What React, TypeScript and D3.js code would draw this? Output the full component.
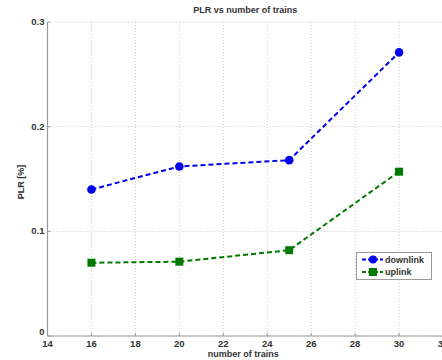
import React from "react";
import * as d3 from "d3";

const trains = [16, 20, 25, 30];
const downlink = [0.14, 0.162, 0.168, 0.271];
const uplink = [0.07, 0.071, 0.082, 0.157];
const xTicks = [14, 16, 18, 20, 22, 24, 26, 28, 30, 32];
const yTicks = [0, 0.1, 0.2, 0.3];

const W = 442;
const H = 360;
const left = 47.5;
const right = 443;
const top = 22;
const bottom = 336;

export default function App() {
  const x = d3.scaleLinear().domain([14, 32]).range([left, right]);
  const y = d3.scaleLinear().domain([0, 0.3]).range([bottom, top]);
  const line = d3
    .line<number>()
    .x((_, i) => x(trains[i]))
    .y((d) => y(d));
  const font = "'Liberation Sans', Arial, sans-serif";
  const blue = "#0000ee";
  const green = "#007a00";
  return (
    <svg
      width={W}
      height={H}
      style={{ position: "absolute", left: 0, top: 0, background: "#fff" }}
      fontFamily={font}
    >
      <rect x={0} y={0} width={W} height={H} fill="#fff" />
      {/* grid */}
      {xTicks.map((t) => (
        <line
          key={"gx" + t}
          x1={x(t)}
          x2={x(t)}
          y1={top}
          y2={bottom}
          stroke="#c8c8c8"
          strokeWidth={1}
          strokeDasharray="1,2"
        />
      ))}
      {yTicks.map((t) => (
        <line
          key={"gy" + t}
          x1={left}
          x2={right}
          y1={y(t)}
          y2={y(t)}
          stroke="#c8c8c8"
          strokeWidth={1}
          strokeDasharray="1,2"
        />
      ))}
      {/* axes */}
      <line x1={left} x2={left} y1={top} y2={bottom} stroke="#999" strokeWidth={1.2} />
      <line x1={left} x2={right} y1={bottom} y2={bottom} stroke="#999" strokeWidth={1.2} />
      {xTicks.map((t) => (
        <line key={"tx" + t} x1={x(t)} x2={x(t)} y1={bottom} y2={bottom - 3} stroke="#999" />
      ))}
      {yTicks.map((t) => (
        <line key={"ty" + t} x1={left} x2={left + 3} y1={y(t)} y2={y(t)} stroke="#999" />
      ))}
      {/* tick labels */}
      {xTicks.map((t) => (
        <text
          key={"lx" + t}
          x={x(t)}
          y={bottom + 11}
          textAnchor="middle"
          fontSize={9.5}
          fontWeight="bold"
          fill="#333"
        >
          {t}
        </text>
      ))}
      {yTicks.map((t) => (
        <text
          key={"ly" + t}
          x={left - 3}
          y={y(t) + (t === 0 ? -1 : 3)}
          textAnchor="end"
          fontSize={9.5}
          fontWeight="bold"
          fill="#333"
        >
          {t === 0 ? "0" : t.toFixed(1)}
        </text>
      ))}
      {/* titles */}
      <text x={(left + right) / 2} y={13} textAnchor="middle" fontSize={9} fontWeight="bold" fill="#333">
        PLR vs number of trains
      </text>
      <text x={(left + right) / 2 - 2} y={357} textAnchor="middle" fontSize={9} fontWeight="bold" fill="#333">
        number of trains
      </text>
      <text
        transform={`translate(24,${(top + bottom) / 2 + 3}) rotate(-90)`}
        textAnchor="middle"
        fontSize={9}
        fontWeight="bold"
        fill="#333"
      >
        PLR [%]
      </text>
      {/* series */}
      <path d={line(downlink) || ""} fill="none" stroke={blue} strokeWidth={2} strokeDasharray="5,3" />
      <path d={line(uplink) || ""} fill="none" stroke={green} strokeWidth={2} strokeDasharray="5,3" />
      {downlink.map((v, i) => (
        <circle key={"d" + i} cx={x(trains[i])} cy={y(v)} r={4.3} fill={blue} />
      ))}
      {uplink.map((v, i) => (
        <rect key={"u" + i} x={x(trains[i]) - 4} y={y(v) - 4} width={8} height={8} fill={green} />
      ))}
      {/* legend */}
      <rect x={356.5} y={252.5} width={75} height={27} fill="#fff" stroke="#999" strokeWidth={1} />
      <line x1={362} x2={383} y1={259.5} y2={259.5} stroke={blue} strokeWidth={2} strokeDasharray="4,2" />
      <circle cx={373} cy={259.5} r={4} fill={blue} />
      <text x={385} y={262.5} fontSize={9} fontWeight="bold" fill="#333">
        downlink
      </text>
      <line x1={362} x2={383} y1={272} y2={272} stroke={green} strokeWidth={2} strokeDasharray="4,2" />
      <rect x={369} y={268} width={8} height={8} fill={green} />
      <text x={385} y={275} fontSize={9} fontWeight="bold" fill="#333">
        uplink
      </text>
    </svg>
  );
}
